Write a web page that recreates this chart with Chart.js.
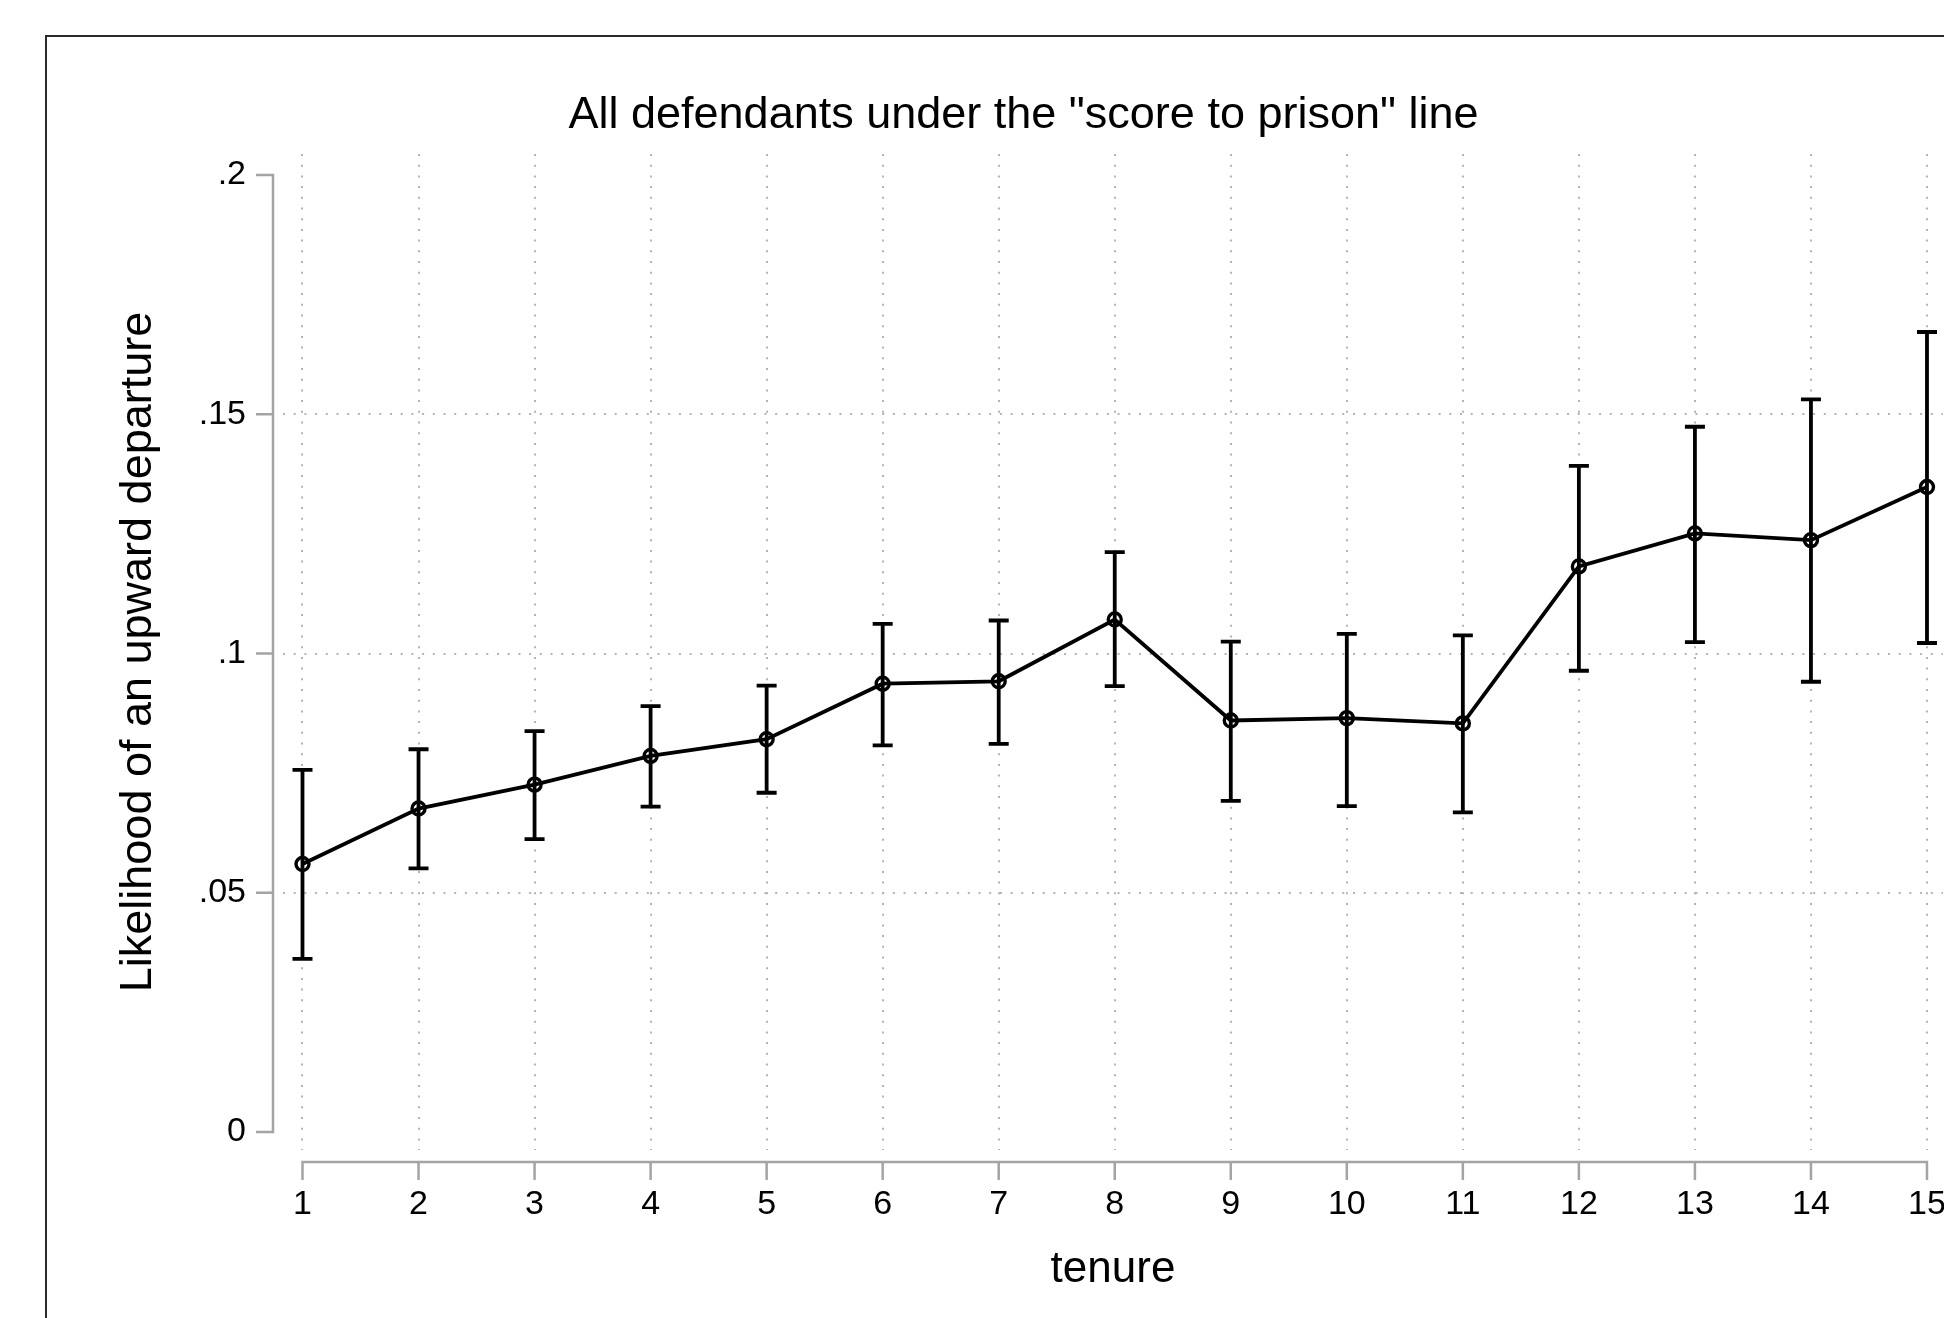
<!DOCTYPE html>
<html>
<head>
<meta charset="utf-8">
<title>Upward departures by tenure</title>
<script src="https://cdn.jsdelivr.net/npm/chart.js@4.4.0/dist/chart.umd.min.js"></script>
<style>
  html, body { margin: 0; padding: 0; background: #fff; overflow: hidden; }
  #frame {
    position: absolute; left: 45px; top: 35px; width: 3000px; height: 3000px;
    border-left: 2px solid #2a2a2a; border-top: 2px solid #2a2a2a;
  }
  #tenureChart { position: absolute; left: 0; top: 0; }
</style>
</head>
<body>
<div id="frame"></div>
<canvas id="tenureChart" width="2000" height="1318"></canvas>
<script>
var tenure = [1, 2, 3, 4, 5, 6, 7, 8, 9, 10, 11, 12, 13, 14, 15];
var estimate = [0.0560, 0.0676, 0.0726, 0.0786, 0.0821, 0.0937, 0.0942, 0.1071, 0.0860, 0.0865, 0.0854, 0.1182, 0.1251, 0.1237, 0.1348];
var ciLow = [0.0362, 0.0551, 0.0612, 0.0680, 0.0709, 0.0808, 0.0811, 0.0932, 0.0692, 0.0681, 0.0668, 0.0964, 0.1024, 0.0941, 0.1022];
var ciHigh = [0.0757, 0.0800, 0.0838, 0.0890, 0.0933, 0.1062, 0.1069, 0.1212, 0.1025, 0.1041, 0.1038, 0.1392, 0.1474, 0.1531, 0.1672];

var yTickValues = [0, 0.05, 0.1, 0.15, 0.2];
var yTickLabels = ['0', '.05', '.1', '.15', '.2'];

var fontFamily = '"Liberation Sans", Arial, Helvetica, sans-serif';
var axisColor = '#a4a4a4';
var gridColor = '#b4b4b4';

// stata style axes: drawn a little away from the plot region, only over the tick range
var offsetAxes = {
  id: 'offsetAxes',
  afterDraw: function (chart) {
    var ctx = chart.ctx;
    var xs = chart.scales.x;
    var ys = chart.scales.y;
    var area = chart.chartArea;
    var ax = area.left - 10;
    var ay = area.bottom + 12;

    ctx.save();
    ctx.strokeStyle = axisColor;
    ctx.lineWidth = 2.5;
    ctx.lineCap = 'butt';

    var yTop = ys.getPixelForValue(yTickValues[yTickValues.length - 1]);
    var yBot = ys.getPixelForValue(yTickValues[0]);
    ctx.beginPath();
    ctx.moveTo(ax, yTop - 1.2);
    ctx.lineTo(ax, yBot + 1.2);
    yTickValues.forEach(function (v) {
      var py = ys.getPixelForValue(v);
      ctx.moveTo(ax - 17, py);
      ctx.lineTo(ax, py);
    });
    ctx.stroke();

    var xLeft = xs.getPixelForValue(tenure[0]);
    var xRight = xs.getPixelForValue(tenure[tenure.length - 1]);
    ctx.beginPath();
    ctx.moveTo(xLeft - 1.2, ay);
    ctx.lineTo(xRight + 1.2, ay);
    tenure.forEach(function (v) {
      var px = xs.getPixelForValue(v);
      ctx.moveTo(px, ay);
      ctx.lineTo(px, ay + 18);
    });
    ctx.stroke();
    ctx.restore();
  }
};

var errorBars = {
  id: 'errorBars',
  beforeDatasetsDraw: function (chart) {
    var ctx = chart.ctx;
    var xs = chart.scales.x;
    var ys = chart.scales.y;
    ctx.save();
    ctx.strokeStyle = '#000';
    ctx.lineWidth = 3.8;
    ctx.lineCap = 'butt';
    tenure.forEach(function (t, i) {
      var px = xs.getPixelForValue(t);
      var hi = ys.getPixelForValue(ciHigh[i]);
      var lo = ys.getPixelForValue(ciLow[i]);
      ctx.beginPath();
      ctx.moveTo(px, hi);
      ctx.lineTo(px, lo);
      ctx.moveTo(px - 10, hi);
      ctx.lineTo(px + 10, hi);
      ctx.moveTo(px - 10, lo);
      ctx.lineTo(px + 10, lo);
      ctx.stroke();
    });
    ctx.restore();
  }
};

var points = tenure.map(function (t, i) {
  return { x: t, y: estimate[i] };
});

new Chart(document.getElementById('tenureChart'), {
  type: 'line',
  data: {
    datasets: [{
      label: 'Likelihood of an upward departure',
      data: points,
      borderColor: '#000',
      borderWidth: 3.8,
      tension: 0,
      pointRadius: 6.5,
      pointBorderWidth: 3.4,
      pointBorderColor: '#000',
      pointBackgroundColor: 'rgba(0,0,0,0)'
    }]
  },
  options: {
    responsive: false,
    animation: false,
    devicePixelRatio: 1,
    layout: { padding: { left: 47, top: 36, right: 0, bottom: 0 } },
    plugins: {
      legend: { display: false },
      tooltip: { enabled: false },
      title: {
        display: true,
        text: 'All defendants under the "score to prison" line',
        color: '#000',
        font: { family: fontFamily, size: 45, weight: 'normal', lineHeight: 1.2 },
        padding: { top: 53, bottom: 11 }
      }
    },
    scales: {
      x: {
        type: 'linear',
        min: 0.832,
        max: 15.138,
        afterBuildTicks: function (scale) {
          scale.ticks = tenure.map(function (v) { return { value: v }; });
        },
        afterFit: function (scale) { scale.height = 168; },
        grid: { color: gridColor, lineWidth: 2, drawTicks: false },
        border: { display: false, dash: [2, 8.7] },
        ticks: {
          autoSkip: false,
          maxRotation: 0,
          padding: 34,
          color: '#000',
          font: { family: fontFamily, size: 34 },
          callback: function (v) { return String(v); }
        },
        title: {
          display: true,
          text: 'tenure',
          color: '#000',
          font: { family: fontFamily, size: 44, lineHeight: 1.2 },
          padding: { top: 0, bottom: 22 }
        }
      },
      y: {
        type: 'linear',
        position: 'left',
        min: -0.00376,
        max: 0.2044,
        afterBuildTicks: function (scale) {
          scale.ticks = yTickValues.map(function (v) { return { value: v }; });
        },
        afterFit: function (scale) { scale.width = 236; },
        grid: {
          lineWidth: 2,
          drawTicks: false,
          color: function (c) {
            if (c.tick && (c.tick.value === yTickValues[0] || c.tick.value === yTickValues[yTickValues.length - 1])) {
              return 'rgba(0,0,0,0)';
            }
            return gridColor;
          }
        },
        border: { display: false, dash: [2, 8.7] },
        ticks: {
          padding: 37,
          color: '#000',
          font: { family: fontFamily, size: 34 },
          callback: function (v) {
            var k = yTickValues.indexOf(v);
            return k >= 0 ? yTickLabels[k] : '';
          }
        },
        title: {
          display: true,
          text: 'Likelihood of an upward departure',
          color: '#000',
          font: { family: fontFamily, size: 45, lineHeight: 1.2 },
          padding: { top: 65, bottom: 0 }
        }
      },
      yRight: {
        type: 'linear',
        position: 'right',
        afterFit: function (scale) { scale.width = 57; },
        grid: { display: false },
        border: { display: false },
        ticks: { display: false }
      }
    }
  },
  plugins: [errorBars, offsetAxes]
});
</script>
</body>
</html>
